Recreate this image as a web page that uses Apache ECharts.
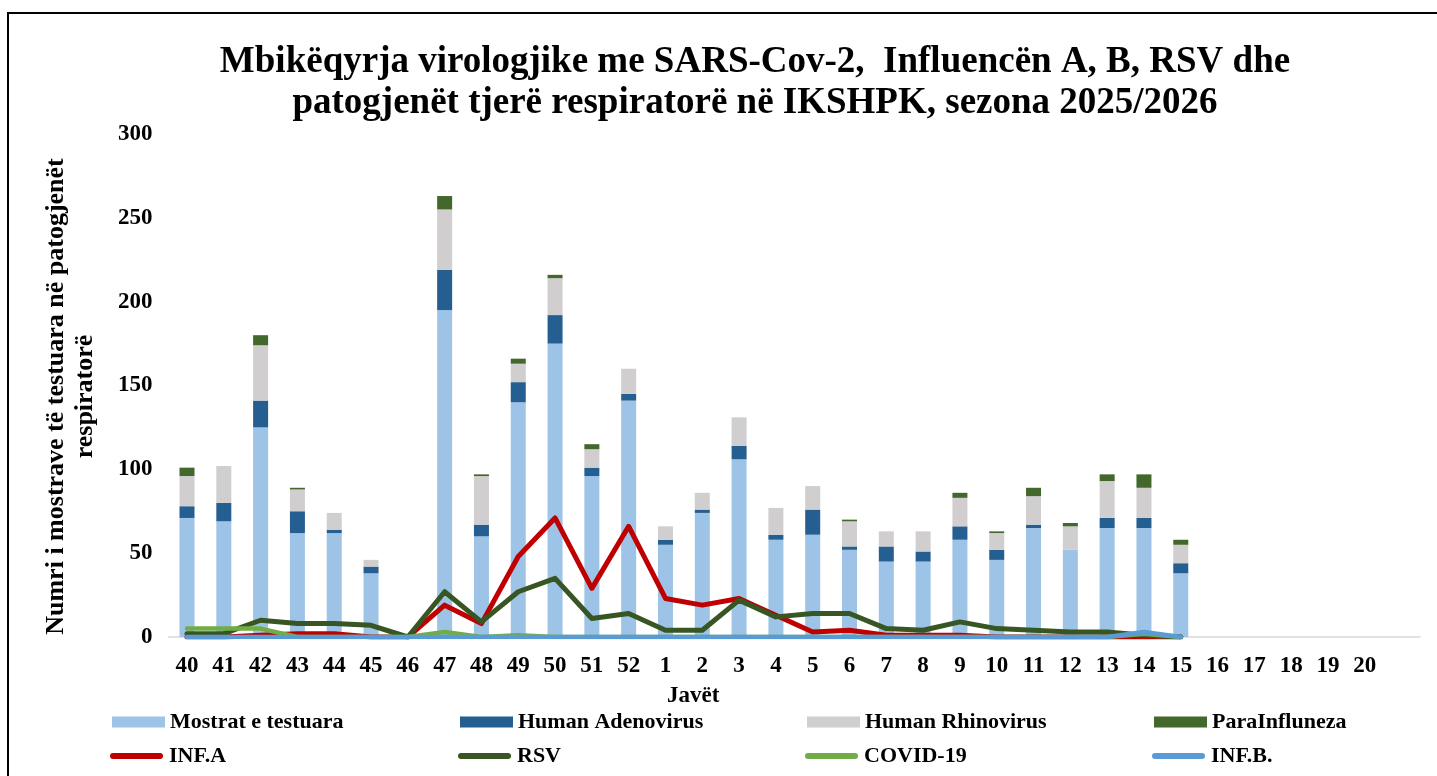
<!DOCTYPE html>
<html>
<head>
<meta charset="utf-8">
<script src="https://cdn.jsdelivr.net/npm/echarts@6/dist/echarts.min.js"></script>
<style>
  html, body { margin: 0; padding: 0; background: #fff; }
  #chart { width: 1437px; height: 776px; }
</style>
</head>
<body>
<div id="chart"></div>
<script>
// weeks of the 2025/2026 season (last blank slot is an empty category, like in the original)
const weeks = ['40','41','42','43','44','45','46','47','48','49','50','51','52',
  '1','2','3','4','5','6','7','8','9','10','11','12','13','14','15',
  '16','17','18','19','20','']

// stacked bars
const mostrat    = [71,69,125,62,62,38,0,195,60,140,175,96,141,55,74,106,58,61,52,45,45,58,46,65,52,65,65,38]
const adenovirus = [7,11,16,13,2,4,0,24,7,12,17,5,4,3,2,8,3,15,2,9,6,8,6,2,0,6,6,6]
const rhinovirus = [18,22,33,13,10,4,0,36,29,11,22,11,15,8,10,17,16,14,15,9,12,17,10,17,14,22,18,11]
const paraInfl   = [5,0,6,1,0,0,0,8,1,3,2,3,0,0,0,0,0,0,1,0,0,3,1,5,2,4,8,3]

// lines
const infA  = [0,0,1,2,2,0,0,19,8,48,71,29,66,23,19,23,13,3,4,1,1,1,0,0,0,0,0,0]
const rsv   = [2,2,10,8,8,7,0,27,9,27,35,11,14,4,4,22,12,14,14,5,4,9,5,4,3,3,1,0]
const covid = [5,5,5,0,0,0,0,3,0,1,0,0,0,0,0,0,0,0,0,0,0,0,0,0,0,0,2,0]
const infB  = [0,0,0,0,0,0,0,0,0,0,0,0,0,0,0,0,0,0,0,0,0,0,0,0,0,0,3,0]

const yTicks = [0, 50, 100, 150, 200, 250, 300]

const barNames  = ['Mostrat e testuara', 'Human Adenovirus', 'Human Rhinovirus', 'ParaInfluneza']
const lineNames = ['INF.A', 'RSV', 'COVID-19', 'INF.B.']

const pad = arr => weeks.map((w, i) => (i < arr.length ? arr[i] : null))

const font = 'Liberation Serif'
const lineIcon = 'path://M3,0 L50,0 A3,3 0 0 1 50,6 L3,6 A3,3 0 0 1 3,0 Z'
const legendCols = [112, 460, 807, 1154]

const chart = echarts.init(document.getElementById('chart'))

const barSeries = (name, data, color) => ({
  name,
  type: 'bar',
  stack: 'total',
  barWidth: 15,
  data: pad(data),
  itemStyle: { color },
  emphasis: { disabled: true }
})

const lineSeries = (name, data, color, width) => ({
  name,
  type: 'line',
  data: pad(data),
  symbol: 'none',
  itemStyle: { color },
  lineStyle: { color, width, cap: 'round', join: 'round' },
  emphasis: { disabled: true }
})

const legendText = { fontFamily: font, fontWeight: 'bold', fontSize: 22, color: '#000' }

// one legend per item so the columns line up like the original
const legends = []
barNames.forEach((n, i) => legends.push({
  data: [n], left: legendCols[i], top: 711,
  itemWidth: 53, itemHeight: 11, icon: 'rect', padding: 0,
  textStyle: legendText
}))
lineNames.forEach((n, i) => legends.push({
  data: [n], left: legendCols[i] - 2, top: 745,
  itemWidth: 55, itemHeight: 6, icon: lineIcon, padding: 0,
  textStyle: legendText
}))

chart.setOption({
  animation: false,
  backgroundColor: '#fff',
  title: {
    text: 'Mbikëqyrja virologjike me SARS-Cov-2,  Influencën A, B, RSV dhe\npatogjenët tjerë respiratorë në IKSHPK, sezona 2025/2026',
    left: 755,
    textAlign: 'center',
    top: 42,
    padding: 0,
    textStyle: { fontFamily: font, fontWeight: 'bold', fontSize: 37, lineHeight: 41, color: '#000' }
  },
  graphic: [{
    type: 'rect',
    shape: { x: 8, y: 13, width: 1450, height: 800 },
    style: { fill: 'none', stroke: '#000', lineWidth: 2 },
    silent: true
  }],
  legend: legends,
  grid: { left: 168.6, right: 17, top: 134, bottom: 139 },
  xAxis: {
    type: 'category',
    data: weeks,
    axisLine: { lineStyle: { color: '#d9d9d9', width: 1.5 } },
    axisTick: { show: false },
    axisLabel: { interval: 0, margin: 18, fontFamily: font, fontWeight: 'bold', fontSize: 23, color: '#000' },
    name: 'Javët',
    nameLocation: 'middle',
    nameGap: 48,
    nameTextStyle: { fontFamily: font, fontWeight: 'bold', fontSize: 23, color: '#000', padding: [0, 202, 0, 0] }
  },
  yAxis: {
    type: 'value',
    min: yTicks[0],
    max: yTicks[yTicks.length - 1],
    interval: 50,
    splitLine: { show: false },
    axisLine: { show: false },
    axisTick: { show: false },
    axisLabel: { margin: 16, fontFamily: font, fontWeight: 'bold', fontSize: 23, color: '#000' },
    name: 'Numri i mostrave të testuara në patogjenët\nrespiratorë',
    nameLocation: 'middle',
    nameGap: 69,
    nameTextStyle: { fontFamily: font, fontWeight: 'bold', fontSize: 26, lineHeight: 29, color: '#000', padding: [0, 22, 0, 0] }
  },
  series: [
    barSeries(barNames[0], mostrat, '#9dc3e6'),
    barSeries(barNames[1], adenovirus, '#255e91'),
    barSeries(barNames[2], rhinovirus, '#d0cece'),
    barSeries(barNames[3], paraInfl, '#43682b'),
    lineSeries(lineNames[0], infA, '#c00000', 5),
    lineSeries(lineNames[1], rsv, '#375623', 5),
    lineSeries(lineNames[2], covid, '#70ad47', 4.5),
    lineSeries(lineNames[3], infB, '#5b9bd5', 4.5)
  ]
})
</script>
</body>
</html>
